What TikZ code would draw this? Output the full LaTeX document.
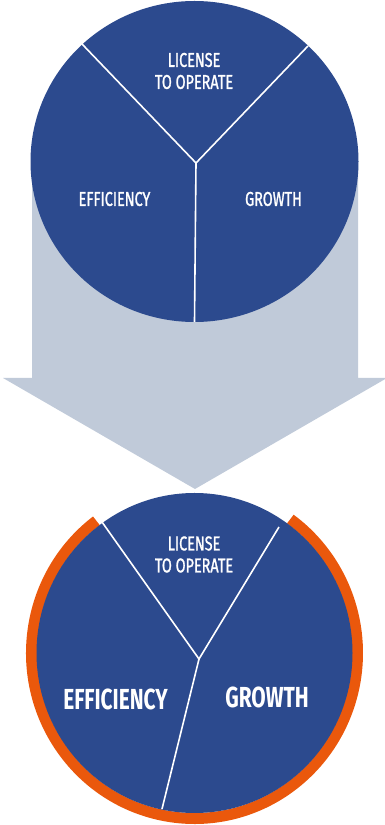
\documentclass[tikz,border=0pt]{standalone}
\usepackage{fontspec}
\newfontfamily\condfont[FakeStretch=0.72]{Fira Sans}
\newfontfamily\condmedfont[FakeStretch=0.72, FakeBold=1.2]{Fira Sans}
\definecolor{pieblue}{RGB}{44,74,142}
\definecolor{arrowgray}{RGB}{192,202,217}
\definecolor{ringorange}{RGB}{234,88,12}
\begin{document}
\begin{tikzpicture}[x=1pt,y=1pt,
  divider/.style={draw=white, line width=1.6pt},
  smalllabel/.style={text=white, font=\condmedfont\fontsize{20}{22}\selectfont, align=center, inner sep=0pt},
  biglabel/.style={text=white, font=\condfont\bfseries\fontsize{29}{32}\selectfont, inner sep=0pt}]
\useasboundingbox (0,0) rectangle (384,825);
% big arrow
\fill[arrowgray] (32,663) -- (358,663) -- (358,447) -- (387,447) -- (195,336) -- (3,447) -- (32,447) -- cycle;
% top pie
\fill[pieblue] (194.5,663.5) ellipse [x radius=164pt, y radius=160.5pt];
\coordinate (tj) at (196,662);
\coordinate (tl) at (82,781);
\coordinate (tr) at (308,779);
\coordinate (tb) at (194.5,503);
\draw[divider] (tl) -- (tj) -- (tr);
\draw[divider] (tj) -- (tb);
\node[smalllabel] (tlic) at (194,754) {LICENSE\\TO OPERATE};
\node[smalllabel] (teff) at (114.5,626) {EFFICIENCY};
\node[smalllabel] (tgro) at (273.5,626) {GROWTH};
% bottom pie
\draw[ringorange, line width=11pt] ([shift={(127:163pt and 165.5pt)}]194.5,172) arc[start angle=127, end angle=414, x radius=163pt, y radius=165.5pt];
\fill[pieblue] (194.5,172) ellipse [x radius=158pt, y radius=160pt];
\coordinate (bj) at (199,166);
\coordinate (bl) at (102,303);
\coordinate (br) at (279,298);
\coordinate (bb) at (162,16);
\draw[divider] (bl) -- (bj) -- (br);
\draw[divider] (bj) -- (bb);
\node[smalllabel] (blic) at (194,270.5) {LICENSE\\TO OPERATE};
\node[biglabel] (beff) at (115.5,126) {EFFICIENCY};
\node[biglabel] (bgro) at (267,128) {GROWTH};
\end{tikzpicture}
\end{document}
